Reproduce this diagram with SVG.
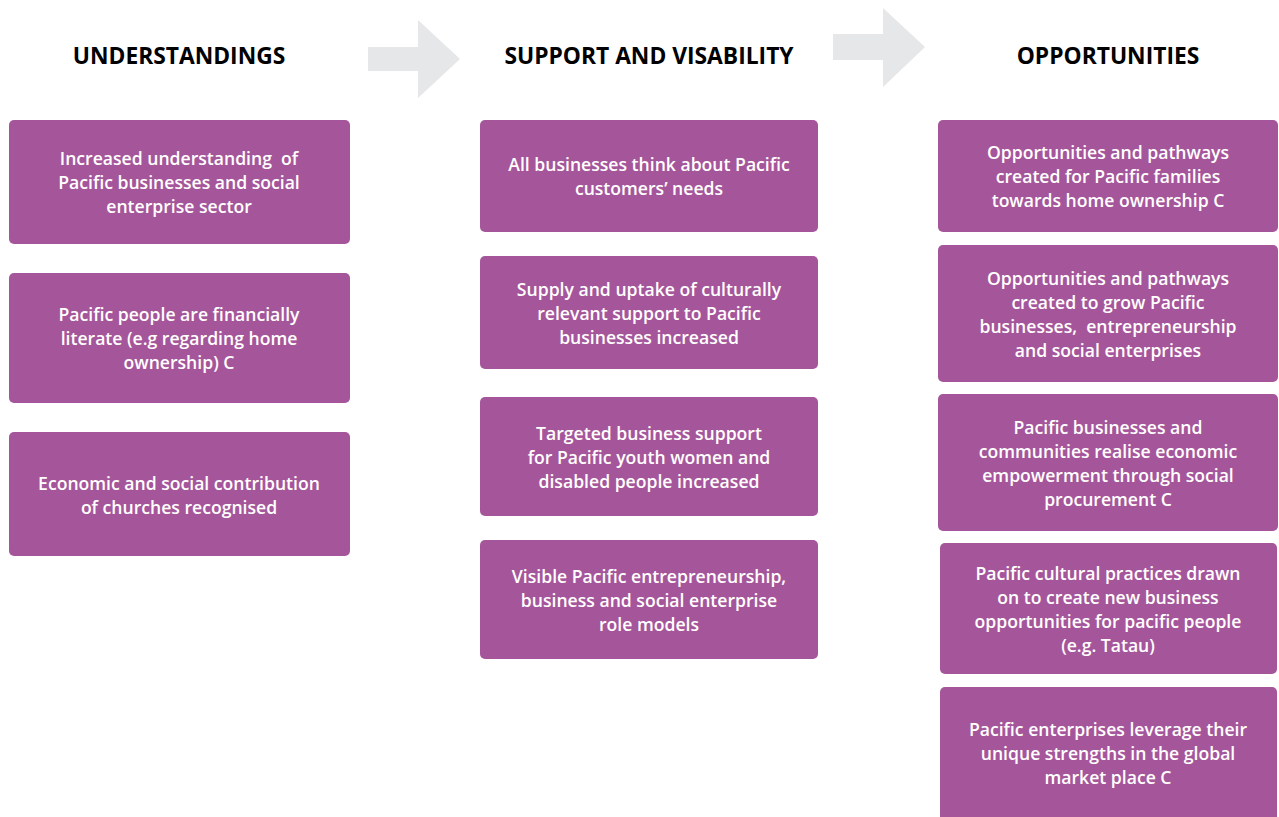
<svg xmlns="http://www.w3.org/2000/svg" width="1279" height="817" viewBox="0 0 1279 817">
<style>
.box{fill:#a5569b;}
.t{font-family:"Open Sans","Noto Sans",sans-serif;font-size:17.6px;font-weight:600;fill:#ffffff;text-anchor:middle;white-space:pre;}
.h{font-family:"Open Sans","Noto Sans",sans-serif;font-size:22.8px;font-weight:700;fill:#000000;text-anchor:middle;}
.arr{fill:#e6e7e8;}
</style>
<rect width="1279" height="817" fill="#ffffff"/>
<g id="arrows">
<polygon class="arr" points="368,47 418,47 418,20 460,59 418,98 418,71 368,71"/>
<polygon class="arr" points="833,34 883,34 883,8 925,47 883,87 883,60 833,60"/>
</g>
<g id="headings">
<text class="h" x="179" y="64">UNDERSTANDINGS</text>
<text class="h" x="649" y="64">SUPPORT AND VISABILITY</text>
<text class="h" x="1108" y="64">OPPORTUNITIES</text>
</g>
<g transform="translate(0,1)">
<g id="u1"><rect class="box" x="9" y="119" width="341" height="124" rx="5"/>
<text class="t" x="179" y="164" xml:space="preserve">Increased understanding  of</text><text class="t" x="179" y="188">Pacific businesses and social</text><text class="t" x="179" y="212">enterprise sector</text></g>
<g id="u2"><rect class="box" x="9" y="272" width="341" height="130" rx="5"/>
<text class="t" x="179" y="320">Pacific people are financially</text><text class="t" x="179" y="344">literate (e.g regarding home</text><text class="t" x="179" y="368">ownership) C</text></g>
<g id="u3"><rect class="box" x="9" y="431" width="341" height="124" rx="5"/>
<text class="t" x="179" y="489">Economic and social contribution</text><text class="t" x="179" y="513">of churches recognised</text></g>
<g id="s1"><rect class="box" x="480" y="119" width="338" height="112" rx="5"/>
<text class="t" x="649" y="170">All businesses think about Pacific</text><text class="t" x="649" y="194">customers’ needs</text></g>
<g id="s2"><rect class="box" x="480" y="255" width="338" height="113" rx="5"/>
<text class="t" x="649" y="295">Supply and uptake of culturally</text><text class="t" x="649" y="319">relevant support to Pacific</text><text class="t" x="649" y="343">businesses increased</text></g>
<g id="s3"><rect class="box" x="480" y="396" width="338" height="119" rx="5"/>
<text class="t" x="649" y="439">Targeted business support</text><text class="t" x="649" y="463">for Pacific youth women and</text><text class="t" x="649" y="487">disabled people increased</text></g>
<g id="s4"><rect class="box" x="480" y="539" width="338" height="119" rx="5"/>
<text class="t" x="649" y="582">Visible Pacific entrepreneurship,</text><text class="t" x="649" y="606">business and social enterprise</text><text class="t" x="649" y="630">role models</text></g>
<g id="o1"><rect class="box" x="938" y="119" width="340" height="112" rx="5"/>
<text class="t" x="1108" y="158">Opportunities and pathways</text><text class="t" x="1108" y="182">created for Pacific families</text><text class="t" x="1108" y="206">towards home ownership C</text></g>
<g id="o2"><rect class="box" x="938" y="244" width="340" height="137" rx="5"/>
<text class="t" x="1108" y="284">Opportunities and pathways</text><text class="t" x="1108" y="308">created to grow Pacific</text><text class="t" x="1108" y="332" xml:space="preserve">businesses,  entrepreneurship</text><text class="t" x="1108" y="356">and social enterprises</text></g>
<g id="o3"><rect class="box" x="938" y="393" width="340" height="137" rx="5"/>
<text class="t" x="1108" y="433">Pacific businesses and</text><text class="t" x="1108" y="457">communities realise economic</text><text class="t" x="1108" y="481">empowerment through social</text><text class="t" x="1108" y="505">procurement C</text></g>
<g id="o4"><rect class="box" x="940" y="542" width="337" height="131" rx="5"/>
<text class="t" x="1108" y="579">Pacific cultural practices drawn</text><text class="t" x="1108" y="603">on to create new business</text><text class="t" x="1108" y="627">opportunities for pacific people</text><text class="t" x="1108" y="651">(e.g. Tatau)</text></g>
<g id="o5"><rect class="box" x="940" y="686" width="337" height="135" rx="5"/>
<text class="t" x="1108" y="735">Pacific enterprises leverage their</text><text class="t" x="1108" y="759">unique strengths in the global</text><text class="t" x="1108" y="783">market place C</text></g>
</g>
</svg>
